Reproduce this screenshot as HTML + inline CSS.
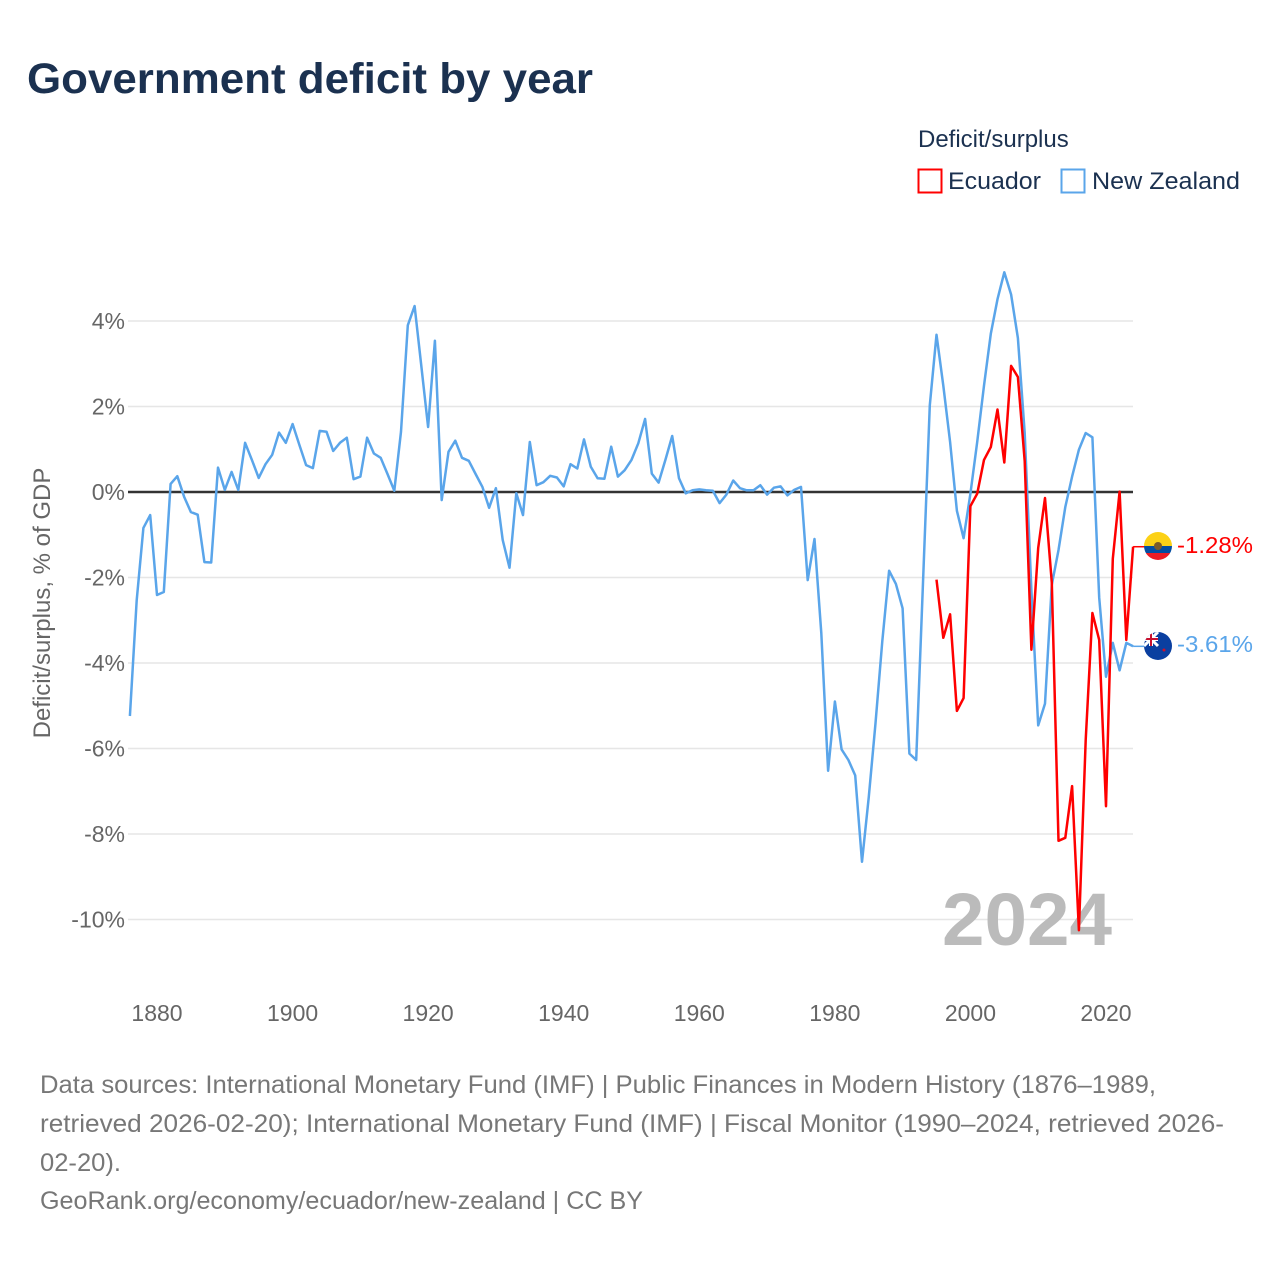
<!DOCTYPE html>
<html><head><meta charset="utf-8"><style>
body{margin:0;background:#fff;font-family:"Liberation Sans",sans-serif}
svg text{font-family:"Liberation Sans",sans-serif}
</style></head><body>
<svg width="1280" height="1280" viewBox="0 0 1280 1280">
<text x="27" y="93" font-size="43" font-weight="bold" fill="#1b3150" textLength="566" lengthAdjust="spacingAndGlyphs">Government deficit by year</text>
<text x="918" y="147" font-size="24" fill="#1b3150">Deficit/surplus</text>
<g><rect x="918.5" y="169.5" width="23" height="23" fill="none" stroke="#f00" stroke-width="2"/><text x="948" y="189" font-size="24" fill="#1b3150" textLength="93" lengthAdjust="spacingAndGlyphs">Ecuador</text></g>
<g><rect x="1061.5" y="169.5" width="23" height="23" fill="none" stroke="#5aa5ea" stroke-width="2"/><text x="1092" y="189" font-size="24" fill="#1b3150" textLength="148" lengthAdjust="spacingAndGlyphs">New Zealand</text></g>
<g id="grid"></g>
<g id="yt"></g>
<g id="xt"></g>
<text transform="translate(50,603) rotate(-90)" text-anchor="middle" font-size="24" fill="#666">Deficit/surplus, % of GDP</text>
<text x="942" y="945" font-size="74" font-weight="bold" fill="#bbb" textLength="170" lengthAdjust="spacingAndGlyphs">2024</text>
<g id="series"></g>
<g><clipPath id="c1"><circle cx="1158" cy="546" r="14"/></clipPath><g clip-path="url(#c1)"><rect x="1144" y="532" width="28" height="14" fill="#fcd116"/><rect x="1144" y="546" width="28" height="7" fill="#034ea2"/><rect x="1144" y="553" width="28" height="7" fill="#ed1c24"/><circle cx="1158" cy="546" r="4" fill="#7a5a2a"/></g></g>
<g><clipPath id="c2"><circle cx="1158" cy="646" r="14"/></clipPath><g clip-path="url(#c2)"><rect x="1144" y="632" width="28" height="28" fill="#0a3fa0"/><path d="M1144 632 L1158 646 M1158 632 L1144 646" stroke="#fff" stroke-width="3"/><path d="M1151 632 V646 M1144 639 H1158" stroke="#fff" stroke-width="4"/><path d="M1151 632 V646 M1144 639 H1158" stroke="#c8102e" stroke-width="2"/><circle cx="1164" cy="650" r="1.5" fill="#c8102e"/></g></g>
<text x="1177" y="553" font-size="23" fill="#f00" textLength="76" lengthAdjust="spacingAndGlyphs">-1.28%</text>
<text x="1177" y="652" font-size="23" fill="#5aa5ea" textLength="76" lengthAdjust="spacingAndGlyphs">-3.61%</text>
<g font-size="25" fill="#777">
<text x="40" y="1093" textLength="1116" lengthAdjust="spacingAndGlyphs">Data sources: International Monetary Fund (IMF) | Public Finances in Modern History (1876–1989,</text>
<text x="40" y="1132" textLength="1184" lengthAdjust="spacingAndGlyphs">retrieved 2026-02-20); International Monetary Fund (IMF) | Fiscal Monitor (1990–2024, retrieved 2026-</text>
<text x="40" y="1171" textLength="81" lengthAdjust="spacingAndGlyphs">02-20).</text>
<text x="40" y="1209" textLength="603" lengthAdjust="spacingAndGlyphs">GeoRank.org/economy/ecuador/new-zealand | CC BY</text>
</g>
</svg>
<script>
const yTicks=[4,2,0,-2,-4,-6,-8,-10];
const xTicks=[1880,1900,1920,1940,1960,1980,2000,2020];
const nzStart=1876;
const nzValues=[-5.24,-2.53,-0.84,-0.54,-2.41,-2.34,0.19,0.37,-0.11,-0.47,-0.53,-1.64,-1.65,0.57,0.05,0.47,0.05,1.15,0.75,0.33,0.65,0.87,1.39,1.15,1.59,1.1,0.63,0.56,1.43,1.41,0.96,1.15,1.27,0.3,0.36,1.27,0.9,0.8,0.42,0.03,1.41,3.9,4.35,2.93,1.52,3.54,-0.19,0.94,1.2,0.8,0.73,0.42,0.12,-0.37,0.09,-1.12,-1.77,-0.03,-0.54,1.17,0.16,0.23,0.38,0.34,0.13,0.65,0.55,1.23,0.59,0.32,0.31,1.06,0.36,0.51,0.75,1.14,1.71,0.43,0.22,0.75,1.31,0.32,-0.03,0.04,0.06,0.04,0.03,-0.26,-0.06,0.27,0.09,0.04,0.04,0.16,-0.06,0.1,0.13,-0.08,0.05,0.12,-2.06,-1.1,-3.3,-6.52,-4.9,-6.02,-6.27,-6.63,-8.65,-7.13,-5.41,-3.49,-1.84,-2.15,-2.72,-6.12,-6.27,-2.12,2.03,3.68,2.49,1.17,-0.44,-1.08,-0.04,1.17,2.49,3.7,4.51,5.14,4.62,3.6,1.38,-2.3,-5.46,-4.95,-2.17,-1.36,-0.35,0.36,0.99,1.38,1.28,-2.47,-4.32,-3.53,-4.17,-3.53,-3.61];
const ecStart=1995;
const ecValues=[-2.05,-3.41,-2.86,-5.12,-4.82,-0.33,-0.04,0.75,1.05,1.93,0.69,2.95,2.69,0.72,-3.69,-1.31,-0.14,-2.12,-8.16,-8.09,-6.88,-10.25,-5.8,-2.83,-3.46,-7.35,-1.56,0.01,-3.46,-1.28];
const NS="http://www.w3.org/2000/svg";
const xS=yr=>157+(yr-1880)*(949/140);
const yS=v=>492-v*42.75;
const grid=document.getElementById('grid'),yt=document.getElementById('yt'),xt=document.getElementById('xt'),ser=document.getElementById('series');
yTicks.forEach(t=>{
 const l=document.createElementNS(NS,'line');
 
 
 l.setAttribute('x1',128);l.setAttribute('x2',1133);l.setAttribute('y1',yS(t));l.setAttribute('y2',yS(t));
 l.setAttribute('stroke',t===0?'#333':'#e6e6e6');l.setAttribute('stroke-width',t===0?2.5:1.5);
 (t===0?ser:grid).appendChild(l);
 const tx=document.createElementNS(NS,'text');
 
 
 tx.setAttribute('x',125);tx.setAttribute('y',yS(t)+8);tx.setAttribute('text-anchor','end');tx.setAttribute('font-size','23');tx.setAttribute('fill','#666');
 tx.textContent=t+'%';yt.appendChild(tx);
});
xTicks.forEach(t=>{
 const tx=document.createElementNS(NS,'text');
 
 
 tx.setAttribute('x',xS(t));tx.setAttribute('y',1021);tx.setAttribute('text-anchor','middle');tx.setAttribute('font-size','23');tx.setAttribute('fill','#666');
 tx.textContent=t;xt.appendChild(tx);
});
function line(start,vals,color,name){
 const p=document.createElementNS(NS,'polyline');
 
 
 p.setAttribute('points',vals.map((v,i)=>xS(start+i).toFixed(1)+','+yS(v).toFixed(1)).join(' '));
 p.setAttribute('fill','none');p.setAttribute('stroke',color);p.setAttribute('stroke-width','2.5');p.setAttribute('stroke-linejoin','round');
 ser.appendChild(p);
}
line(nzStart,nzValues,'#5aa5ea','new-zealand-line');
line(ecStart,ecValues,'#f00','ecuador-line');
function conn(v,color,name){
 const l=document.createElementNS(NS,'line');
 
 
 l.setAttribute('x1',xS(2024));l.setAttribute('x2',1146);l.setAttribute('y1',yS(v));l.setAttribute('y2',yS(v));l.setAttribute('stroke',color);l.setAttribute('stroke-width','1.5');
 ser.appendChild(l);
}
conn(ecValues[ecValues.length-1],'#f00','ecuador-label-connector');
conn(nzValues[nzValues.length-1],'#5aa5ea','new-zealand-label-connector');
</script>
</body></html>
